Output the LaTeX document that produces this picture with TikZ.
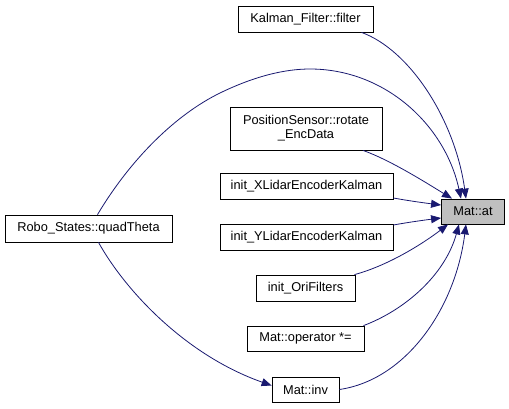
\documentclass[tikz,border=0pt]{standalone}
\usepackage{fontspec}
\setmainfont{Liberation Sans}
\usetikzlibrary{arrows.meta}
\definecolor{edgecol}{HTML}{191970}
\definecolor{hilite}{HTML}{BFBFBF}
\begin{document}
\begin{tikzpicture}[x=1pt,y=-1pt,
  box/.style={draw=black, fill=white, inner sep=0pt, line width=0.8pt,
    font=\fontsize{12.8}{14}\selectfont, align=center},
  edge/.style={draw=edgecol, line width=0.8pt,
    -{Triangle[length=10pt,width=8pt,fill=edgecol]}}]
\useasboundingbox (0,0) rectangle (509,408);
\node[box, fill=hilite, minimum width=63pt, minimum height=25pt] (at) at (473,211.5) {Mat::at};
\node[box, minimum width=135pt, minimum height=26pt] (kal) at (305.5,19) {Kalman\_Filter::filter};
\node[box, minimum width=152pt, minimum height=43pt] (pos) at (306,128.5) {PositionSensor::rotate\\\_EncData};
\node[box, minimum width=173pt, minimum height=26pt] (xl) at (306.5,186) {init\_XLidarEncoderKalman};
\node[box, minimum width=173pt, minimum height=26pt] (yl) at (306.5,237) {init\_YLidarEncoderKalman};
\node[box, minimum width=99pt, minimum height=26pt] (ori) at (305.5,288) {init\_OriFilters};
\node[box, minimum width=117pt, minimum height=25pt] (op) at (305.5,338.5) {Mat::operator *=};
\node[box, minimum width=67pt, minimum height=25pt] (inv) at (305.5,389.5) {Mat::inv};
\node[box, minimum width=167pt, minimum height=27pt] (robo) at (88.5,228.5) {Robo\_States::quadTheta};

\draw[edge] ([xshift=56pt]kal.south) .. controls (410,50) and (455,120) .. ([xshift=-7pt]at.north);
\draw[edge] ([xshift=9pt]robo.north) .. controls (130,160) and (175,115) .. (220,93)
   .. controls (255,76) and (285,69) .. (310,69)
   .. controls (385,69) and (445,125) .. ([xshift=-12pt]at.north);
\draw[edge] ([xshift=57pt]pos.south) .. controls (390,160) and (425,182) .. ([xshift=-21pt]at.north);
\draw[edge] ([yshift=-12pt]xl.east) .. controls (410,201) and (425,203) .. ([yshift=6.5pt]at.west);
\draw[edge] ([yshift=12pt]yl.east) .. controls (410,222) and (425,220) .. ([yshift=-6.5pt]at.west);
\draw[edge] ([xshift=49pt]ori.north) .. controls (390,265) and (425,242) .. ([xshift=-25pt]at.south);
\draw[edge] ([xshift=58pt]op.north) .. controls (405,310) and (445,275) .. ([xshift=-14pt]at.south);
\draw[edge] (inv.east) .. controls (405,380) and (455,310) .. ([xshift=-7pt]at.south);
\draw[edge] ([xshift=10pt]robo.south) .. controls (125,290) and (185,355) .. ([yshift=4pt]inv.west);
\end{tikzpicture}
\end{document}
